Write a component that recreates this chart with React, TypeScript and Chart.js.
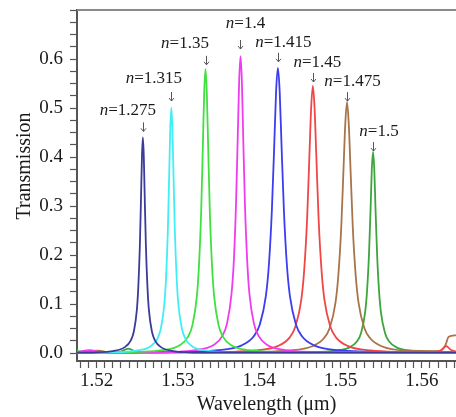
import React, { useEffect, useRef } from 'react';
import { Chart, registerables } from 'chart.js';

Chart.register(...registerables);

// ---------- data ----------
const refractiveIndices = ['1.275', '1.315', '1.35', '1.4', '1.415', '1.45', '1.475', '1.5'];
const lineColors = ['#3b3b98', '#40eef5', '#40e040', '#f03cf0', '#3c3cf0', '#f04646', '#a8744a', '#3ca53c'];

const wl_n1275 = [1.5176, 1.5183, 1.522, 1.52348, 1.52422, 1.52459, 1.52496, 1.52514, 1.52533, 1.52548, 1.52559, 1.5257, 1.52581, 1.52592, 1.52607, 1.52626, 1.52644, 1.52681, 1.52718, 1.52792, 1.5294, 1.5331, 1.5642];
const tr_n1275 = [0.001, 0.001, 0.004, 0.012, 0.026, 0.044, 0.088, 0.136, 0.22, 0.323, 0.403, 0.44, 0.403, 0.323, 0.22, 0.136, 0.088, 0.044, 0.026, 0.012, 0.004, 0.001, 0.001];

const wl_n1315 = [1.5176, 1.5206, 1.5249, 1.52662, 1.52748, 1.52791, 1.52834, 1.52855, 1.52877, 1.52894, 1.52907, 1.5292, 1.52933, 1.52946, 1.52963, 1.52985, 1.53006, 1.53049, 1.53092, 1.53178, 1.5335, 1.5378, 1.5642];
const tr_n1315 = [0.001, 0.001, 0.005, 0.0135, 0.029, 0.05, 0.1, 0.154, 0.25, 0.368, 0.458, 0.5, 0.458, 0.368, 0.25, 0.154, 0.1, 0.05, 0.029, 0.0135, 0.005, 0.001, 0.001];

const wl_n135 = [1.5176, 1.5186, 1.5228, 1.5281, 1.53022, 1.53128, 1.53181, 1.53234, 1.5326, 1.53287, 1.53308, 1.53324, 1.5334, 1.53356, 1.53372, 1.53393, 1.5342, 1.53446, 1.53499, 1.53552, 1.53658, 1.5387, 1.544, 1.5642];
const tr_n135 = [0.005, 0.0015, 0.0015, 0.0057, 0.0157, 0.034, 0.058, 0.116, 0.179, 0.29, 0.426, 0.532, 0.58, 0.532, 0.426, 0.29, 0.179, 0.116, 0.058, 0.034, 0.0157, 0.0057, 0.0015, 0.001];

const wl_n14 = [1.5176, 1.5192, 1.5205, 1.5267, 1.5322, 1.5344, 1.5355, 1.53605, 1.5366, 1.53688, 1.53715, 1.53737, 1.53754, 1.5377, 1.53787, 1.53803, 1.53825, 1.53853, 1.5388, 1.53935, 1.5399, 1.541, 1.5432, 1.5487, 1.5642];
const tr_n14 = [0.002, 0.006, 0.0015, 0.0015, 0.006, 0.0164, 0.0356, 0.0606, 0.121, 0.187, 0.303, 0.445, 0.556, 0.606, 0.556, 0.445, 0.303, 0.187, 0.121, 0.0606, 0.0356, 0.0164, 0.006, 0.0015, 0.001];

const wl_n1415 = [1.5176, 1.5275, 1.5349, 1.53786, 1.53934, 1.54008, 1.54082, 1.54119, 1.54156, 1.54186, 1.54208, 1.5423, 1.54252, 1.54274, 1.54304, 1.54341, 1.54378, 1.54452, 1.54526, 1.54674, 1.5497, 1.5571, 1.5642];
const tr_n1415 = [0.001, 0.0015, 0.0058, 0.0157, 0.0342, 0.0582, 0.116, 0.179, 0.291, 0.428, 0.534, 0.582, 0.534, 0.428, 0.291, 0.179, 0.116, 0.0582, 0.0342, 0.0157, 0.0058, 0.0015, 0.001];

const wl_n145 = [1.5176, 1.5324, 1.5395, 1.54234, 1.54376, 1.54447, 1.54518, 1.54553, 1.54589, 1.54617, 1.54639, 1.5466, 1.54681, 1.54703, 1.54731, 1.54767, 1.54802, 1.54873, 1.54944, 1.55086, 1.5537, 1.5608, 1.5624, 1.563, 1.5636, 1.5642];
const tr_n145 = [0.001, 0.0014, 0.0054, 0.0147, 0.032, 0.0545, 0.109, 0.168, 0.2725, 0.4, 0.5, 0.545, 0.5, 0.4, 0.2725, 0.168, 0.109, 0.0545, 0.032, 0.0147, 0.0054, 0.0014, 0.006, 0.014, 0.006, 0.003];

const wl_n1475 = [1.5176, 1.5202, 1.5215, 1.5366, 1.5437, 1.54654, 1.54796, 1.54867, 1.54938, 1.54973, 1.55009, 1.55037, 1.55059, 1.5508, 1.55101, 1.55123, 1.55151, 1.55187, 1.55222, 1.55293, 1.55364, 1.55506, 1.5579, 1.5622, 1.5629, 1.5633, 1.5642];
const tr_n1475 = [0.001, 0.005, 0.0013, 0.0013, 0.0051, 0.0138, 0.0301, 0.0512, 0.1024, 0.1577, 0.256, 0.376, 0.469, 0.512, 0.469, 0.376, 0.256, 0.1577, 0.1024, 0.0512, 0.0301, 0.0138, 0.0051, 0.004, 0.016, 0.033, 0.036];

const wl_n15 = [1.5176, 1.5228, 1.5239, 1.525, 1.5442, 1.5491, 1.55106, 1.55204, 1.55253, 1.55302, 1.55326, 1.55351, 1.55371, 1.55385, 1.554, 1.55415, 1.55429, 1.55449, 1.55474, 1.55498, 1.55547, 1.55596, 1.55694, 1.5589, 1.5638, 1.5642];
const tr_n15 = [0.001, 0.002, 0.009, 0.002, 0.001, 0.0041, 0.0111, 0.0241, 0.041, 0.082, 0.126, 0.205, 0.301, 0.376, 0.41, 0.376, 0.301, 0.205, 0.126, 0.082, 0.041, 0.0241, 0.0111, 0.0041, 0.001, 0.001];

const wavelengths = [wl_n1275, wl_n1315, wl_n135, wl_n14, wl_n1415, wl_n145, wl_n1475, wl_n15];
const transmissions = [tr_n1275, tr_n1315, tr_n135, tr_n14, tr_n1415, tr_n145, tr_n1475, tr_n15];

// ---------- layout / style ----------
const X_MIN = 1.5176;
const X_MAX = 1.5642;
const Y_MIN = -0.0163;
const Y_MAX = 0.7;
const SERIF = '"Liberation Serif", "Times New Roman", serif';
// label offset from peak (px) [dx, dy] and arrow top offset from peak
const labelOffsets = [[-15, -27], [-17.5, -29], [-20.5, -25], [5, -33], [5.5, -25.5], [4.5, -23.5], [5.5, -21], [6, -21]];
const arrowTops = [-15, -16, -13, -16, -15, -13, -10, -10];

const annotatePlugin = {
  id: 'annotate',
  afterDraw(chart: any) {
    const ctx = chart.ctx as CanvasRenderingContext2D;
    const xs = chart.scales.x;
    const ys = chart.scales.y;
    const { left, right, top, bottom } = chart.chartArea;
    ctx.save();
    // top frame line
    ctx.strokeStyle = '#8a8a8a';
    ctx.lineWidth = 2;
    ctx.beginPath();
    ctx.moveTo(left, top);
    ctx.lineTo(right, top);
    ctx.stroke();

    // peak labels
    refractiveIndices.forEach((n, i) => {
      const yv = transmissions[i];
      let k = 0;
      yv.forEach((v, j) => { if (v > yv[k]) k = j; });
      const px = xs.getPixelForValue(wavelengths[i][k]);
      const py = ys.getPixelForValue(yv[k]);
      const [dx, dy] = labelOffsets[i];
      const italic = `italic 17px ${SERIF}`;
      const normal = `17px ${SERIF}`;
      ctx.font = italic;
      const wN = ctx.measureText('n').width;
      ctx.font = normal;
      const rest = '=' + n;
      const wR = ctx.measureText(rest).width;
      const x0 = px + dx - (wN + wR) / 2;
      const ty = py + dy;
      ctx.fillStyle = '#1a1a1a';
      ctx.textBaseline = 'middle';
      ctx.textAlign = 'left';
      ctx.font = italic;
      ctx.fillText('n', x0, ty);
      ctx.font = normal;
      ctx.fillText(rest, x0 + wN, ty);
      // arrow
      const a0 = py + arrowTops[i];
      const a1 = a0 + 9;
      const ax = Math.round(px) + 0.5;
      ctx.strokeStyle = '#555';
      ctx.lineWidth = 1;
      ctx.beginPath();
      ctx.moveTo(ax, a0);
      ctx.lineTo(ax, a1);
      ctx.moveTo(ax - 2.5, a1 - 3);
      ctx.lineTo(ax, a1);
      ctx.lineTo(ax + 2.5, a1 - 3);
      ctx.stroke();
    });

    // axis titles
    ctx.fillStyle = '#1a1a1a';
    ctx.font = `20px ${SERIF}`;
    ctx.textAlign = 'center';
    ctx.textBaseline = 'middle';
    ctx.fillText('Wavelength (\u03bcm)', (left + right) / 2, bottom + 44);
    ctx.translate(25, top + 156);
    ctx.rotate(-Math.PI / 2);
    ctx.fillText('Transmission', 0, 0);
    ctx.restore();
  },
};

export default function App() {
  const ref = useRef<HTMLCanvasElement>(null);
  useEffect(() => {
    document.body.style.margin = '0';
    const chart = new Chart(ref.current as HTMLCanvasElement, {
      type: 'line',
      data: {
        datasets: refractiveIndices.map((n, i) => ({
          label: 'n=' + n,
          data: wavelengths[i].map((x, j) => ({ x, y: transmissions[i][j] })),
          borderColor: lineColors[i],
          backgroundColor: lineColors[i],
          borderWidth: 1.8,
          pointRadius: 0,
          cubicInterpolationMode: 'monotone' as const,
          fill: false,
        })),
      },
      options: {
        responsive: false,
        animation: false,
        devicePixelRatio: 1,
        layout: { padding: { top: 10, left: 0, right: 0, bottom: 0 } },
        plugins: { legend: { display: false }, tooltip: { enabled: false } },
        scales: {
          x: {
            type: 'linear',
            min: X_MIN,
            max: X_MAX,
            afterFit: (s: any) => { s.height = 56; s.paddingLeft = 0; s.paddingRight = 0; },
            border: { display: true, color: '#555', width: 2 },
            grid: { drawOnChartArea: false, drawTicks: true, tickLength: 7, color: '#555', tickWidth: 1.2 },
            ticks: {
              stepSize: 0.001,
              includeBounds: false,
              autoSkip: false,
              maxRotation: 0,
              padding: 2,
              color: '#1a1a1a',
              font: { family: SERIF, size: 19 },
              callback: (value: any) => {
                const v = Number(value);
                return Math.abs(v * 100 - Math.round(v * 100)) < 1e-6 ? v.toFixed(2) : '';
              },
            },
          },
          y: {
            type: 'linear',
            min: Y_MIN,
            max: Y_MAX,
            afterFit: (s: any) => { s.width = 77; s.paddingTop = 0; s.paddingBottom = 0; },
            border: { display: true, color: '#555', width: 2 },
            grid: { drawOnChartArea: false, drawTicks: true, tickLength: 7, color: '#555', tickWidth: 1.2 },
            ticks: {
              stepSize: 0.025,
              includeBounds: false,
              autoSkip: false,
              padding: 7,
              color: '#1a1a1a',
              font: { family: SERIF, size: 19 },
              callback: (value: any) => {
                const v = Number(value);
                if (v > 0.65) return '';
                return Math.abs(v * 10 - Math.round(v * 10)) < 1e-6 ? v.toFixed(1) : '';
              },
            },
          },
        },
      },
      plugins: [annotatePlugin],
    });
    return () => chart.destroy();
  }, []);
  return (
    <div style={{ width: 456, height: 417 }}>
      <canvas ref={ref} width={456} height={417} style={{ display: 'block' }} />
    </div>
  );
}
